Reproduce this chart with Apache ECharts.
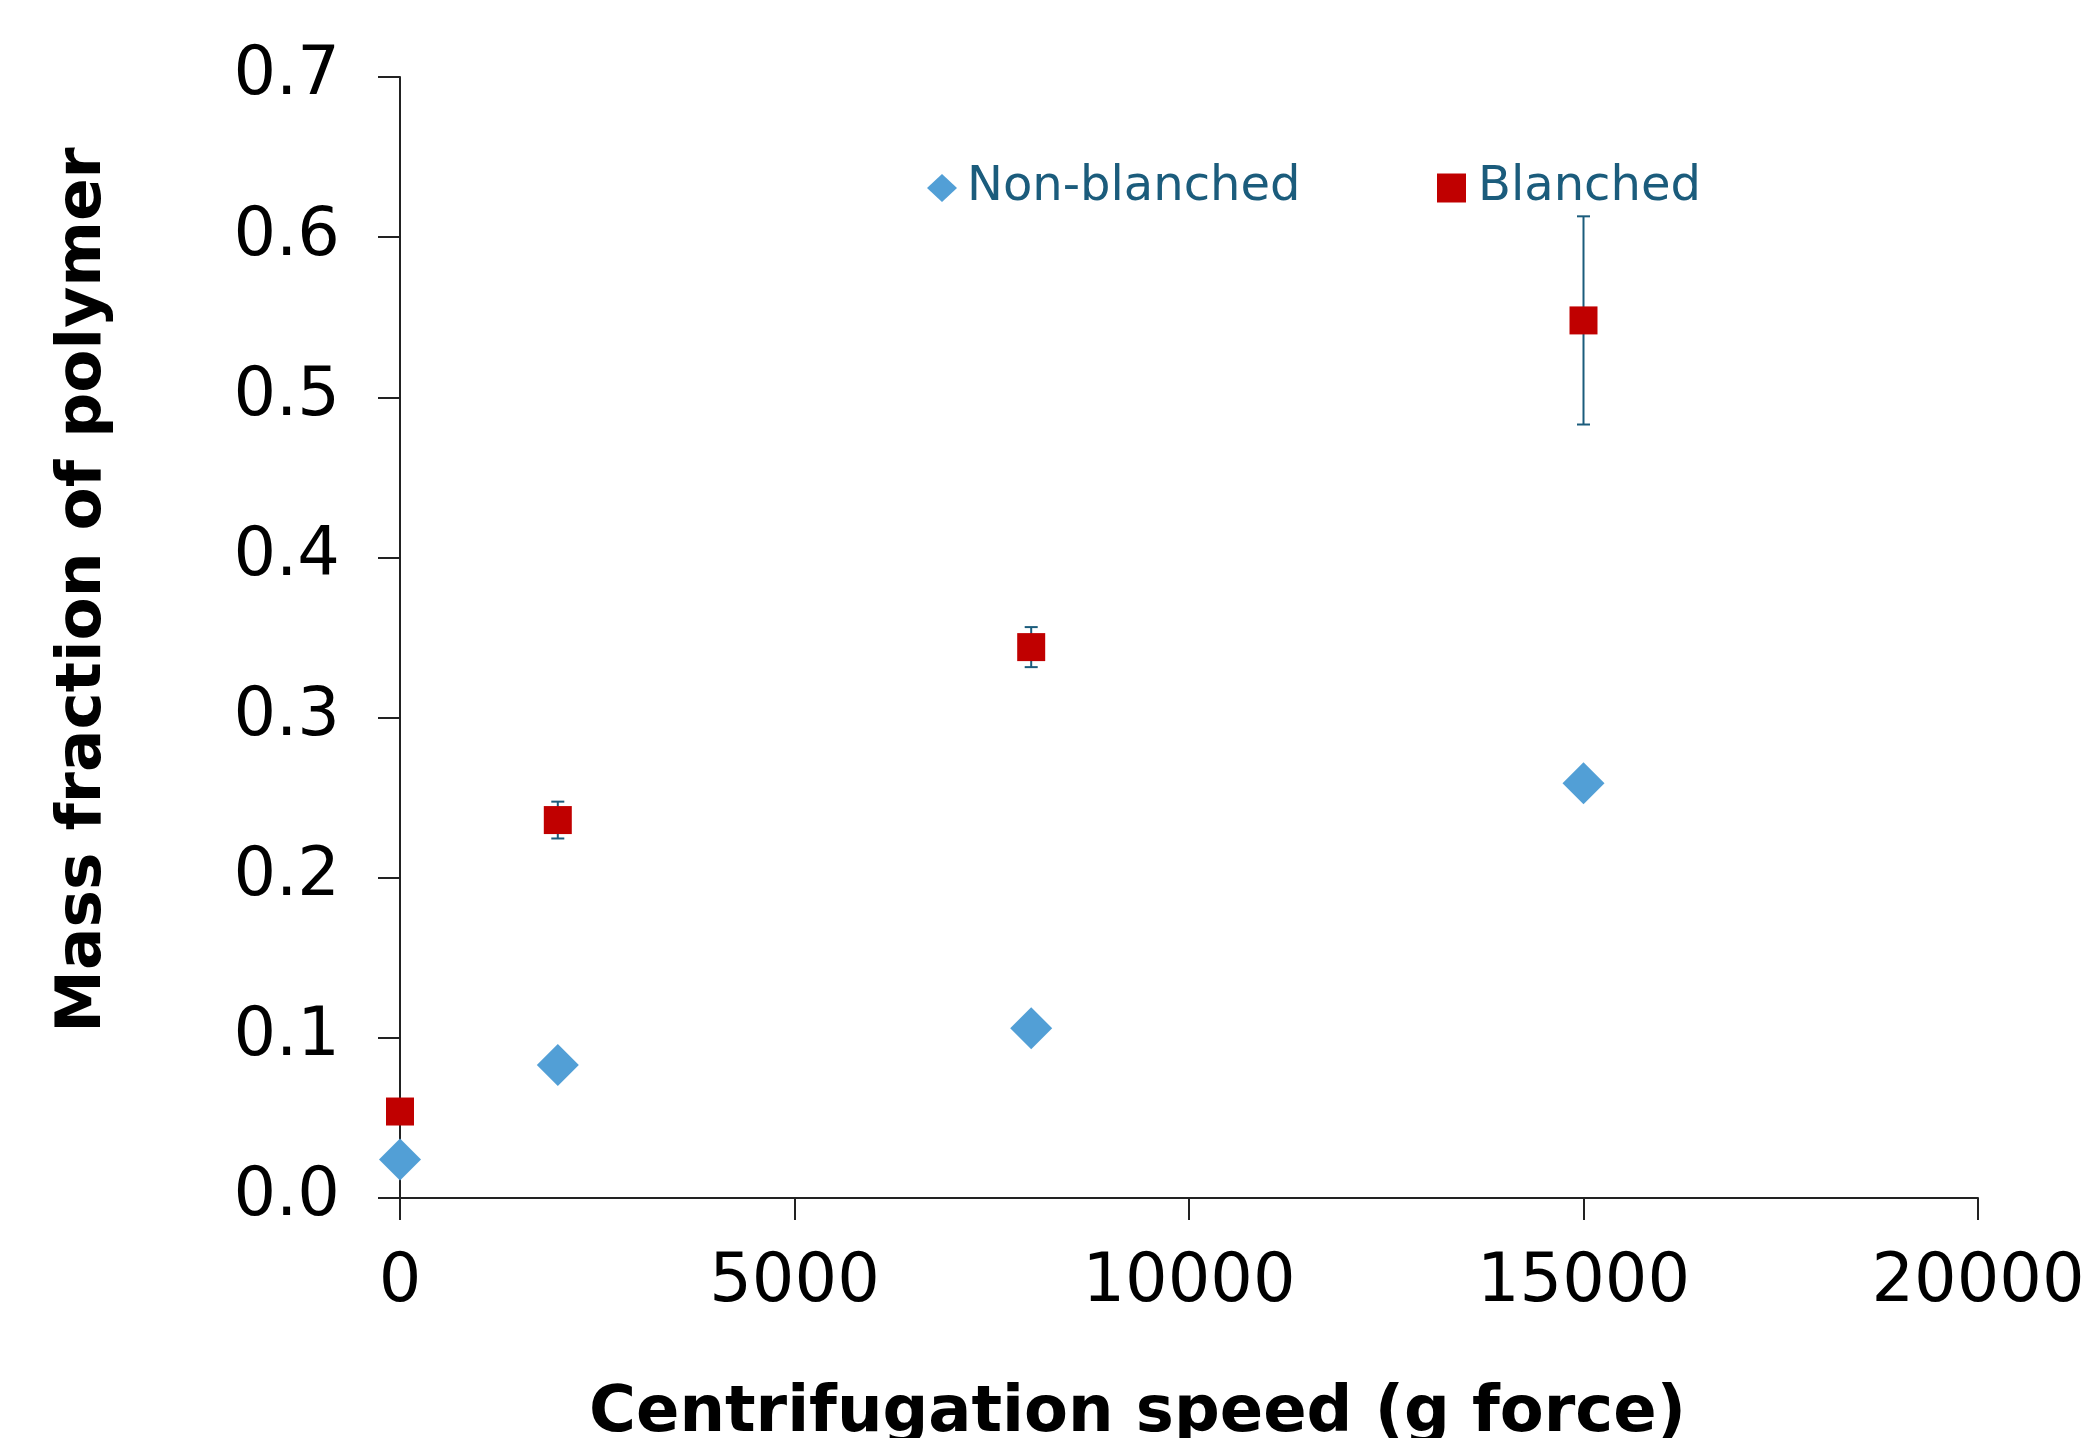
<!DOCTYPE html>
<html style="height: 100%">
<head>
<meta charset="UTF-8">
<script src="https://cdn.jsdelivr.net/npm/echarts@6/dist/echarts.min.js"></script>
</head>
<body style="height: 100%; margin: 0; background: #fff">
<div id="container" style="width: 2085px; height: 1438px"></div>
<script type="text/javascript">
// centrifugation speed (g force)
var speeds = [0, 2000, 8000, 15000];
// mass fraction of polymer
var nonBlanched = [0.024, 0.083, 0.106, 0.259];
var blanched = [0.054, 0.236, 0.344, 0.548];
var blanchedErr = [0.004, 0.0115, 0.0125, 0.065];

var xTicks = [0, 5000, 10000, 15000, 20000];
var yTicks = [0, 0.1, 0.2, 0.3, 0.4, 0.5, 0.6, 0.7];

var teal = '#1B5C7C';
var font = 'DejaVu Sans';

var nbData = [], bData = [], errData = [];
for (var i = 0; i < speeds.length; i++) {
	nbData.push([speeds[i], nonBlanched[i]]);
	bData.push([speeds[i], blanched[i]]);
	errData.push([speeds[i], blanched[i] - blanchedErr[i], blanched[i] + blanchedErr[i]]);
}

var myChart = echarts.init(document.getElementById('container'));
var option = {
	animation: false,
	backgroundColor: '#fff',
	grid: { left: 400, right: 107, top: 77, bottom: 240, containLabel: false, outerBoundsMode: 'none' },
	legend: [{
		data: ['Non-blanched'],
		left: 922, top: 159,
		icon: 'diamond',
		itemWidth: 30, itemHeight: 28,
		textStyle: { color: teal, fontFamily: font, fontSize: 48, padding: [0, 0, 0, 5] }
	}, {
		data: ['Blanched'],
		left: 1432, top: 159,
		icon: 'rect',
		itemWidth: 29, itemHeight: 29,
		textStyle: { color: teal, fontFamily: font, fontSize: 48, padding: [0, 0, 0, 7] }
	}],
	xAxis: {
		type: 'value',
		min: xTicks[0], max: xTicks[xTicks.length - 1], interval: 5000,
		name: 'Centrifugation speed (g force)',
		nameLocation: 'middle', nameGap: 184,
		nameTextStyle: { fontFamily: font, fontWeight: 'bold', fontSize: 64, color: '#000', padding: [0, 103, 0, 0] },
		axisLine: { onZero: false, lineStyle: { color: '#222', width: 2 } },
		axisTick: { show: true, length: 22, lineStyle: { color: '#222', width: 2 } },
		axisLabel: {
			fontFamily: font, fontSize: 67, color: '#000', margin: 52,
			formatter: function (v) { return String(v); }
		},
		splitLine: { show: false }
	},
	yAxis: {
		type: 'value',
		min: yTicks[0], max: yTicks[yTicks.length - 1], interval: 0.1,
		name: 'Mass fraction of polymer',
		nameLocation: 'middle', nameGap: 285,
		nameTextStyle: { fontFamily: font, fontWeight: 'bold', fontSize: 63, color: '#000', padding: [0, 0, 0, 95] },
		axisLine: { show: true, onZero: false, lineStyle: { color: '#222', width: 2 } },
		axisTick: { show: true, length: 22, lineStyle: { color: '#222', width: 2 } },
		axisLabel: {
			fontFamily: font, fontSize: 67, color: '#000', margin: 60,
			formatter: function (v) { return v.toFixed(1); }
		},
		splitLine: { show: false }
	},
	series: [{
		name: 'Blanched-err',
		type: 'custom',
		z: 1,
		data: errData,
		renderItem: function (params, api) {
			var x = api.value(0);
			var lo = api.coord([x, api.value(1)]);
			var hi = api.coord([x, api.value(2)]);
			var w = 6.5;
			var style = { stroke: teal, lineWidth: 2 };
			return {
				type: 'group',
				children: [
					{ type: 'line', shape: { x1: lo[0], y1: lo[1], x2: hi[0], y2: hi[1] }, style: style },
					{ type: 'line', shape: { x1: lo[0] - w, y1: lo[1], x2: lo[0] + w, y2: lo[1] }, style: style },
					{ type: 'line', shape: { x1: hi[0] - w, y1: hi[1], x2: hi[0] + w, y2: hi[1] }, style: style }
				]
			};
		}
	}, {
		name: 'Non-blanched',
		type: 'scatter',
		symbol: 'diamond',
		symbolSize: 42,
		z: 3,
		itemStyle: { color: '#529FD6', opacity: 1 },
		data: nbData
	}, {
		name: 'Blanched',
		type: 'scatter',
		symbol: 'rect',
		symbolSize: 28,
		z: 3,
		itemStyle: { color: '#C00000', opacity: 1 },
		data: bData
	}]
};
myChart.setOption(option);
</script>
</body>
</html>
